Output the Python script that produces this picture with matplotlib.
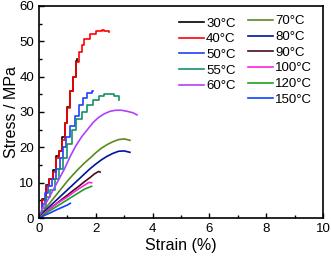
import matplotlib
matplotlib.use("Agg")
import matplotlib.pyplot as plt
from matplotlib.ticker import MultipleLocator

plt.rcParams['font.family'] = ['Liberation Sans', 'DejaVu Sans']

labels = ['30°C', '40°C', '50°C', '55°C', '60°C', '70°C', '80°C', '90°C', '100°C', '120°C', '150°C']
colors = ['#000000', '#ff0000', '#2040ff', '#14906a', '#b040ff', '#5a8a1e', '#00149a', '#4a0a20', '#ff20e0', '#20a020', '#1040ff']

x30 = [0, 0.1, 0.25, 0.35, 0.5, 0.6, 0.7, 0.8, 0.9, 1.0, 1.1, 1.2, 1.3, 1.35]
y30 = [0, 5.5, 9.5, 11, 13.5, 17.5, 19, 23, 27, 31.5, 36, 40, 44.5, 45]
x40 = [0, 0.1, 0.25, 0.35, 0.5, 0.6, 0.7, 0.8, 0.9, 1.0, 1.1, 1.2, 1.3, 1.4, 1.5, 1.6, 1.8, 2.0, 2.2, 2.3, 2.45]
y40 = [0, 5, 9, 11, 13, 17, 19, 22, 27, 31, 36, 40, 44, 47, 49, 50.5, 52, 53, 53.3, 53, 52.5]
x50 = [0, 0.1, 0.2, 0.3, 0.45, 0.6, 0.75, 0.85, 0.95, 1.1, 1.25, 1.4, 1.55, 1.7, 1.85, 1.9]
y50 = [0, 4, 7, 9, 11, 14, 17, 20, 23, 26, 29, 32, 34, 35.5, 36, 35.8]
x55 = [0, 0.1, 0.25, 0.4, 0.55, 0.7, 0.85, 1.0, 1.15, 1.3, 1.5, 1.7, 1.9, 2.1, 2.3, 2.5, 2.65, 2.8]
y55 = [0, 3, 6, 8, 11, 14, 17, 21, 25, 28, 30, 32, 33.5, 34.5, 35, 35, 34.5, 33.5]
x60 = [0, 0.1, 0.3, 0.5, 0.7, 0.9, 1.1, 1.3, 1.5, 1.7, 1.9, 2.1, 2.3, 2.5, 2.7, 2.9, 3.1, 3.3, 3.45]
y60 = [0, 2.5, 5, 8, 11, 14, 17.5, 20.5, 23, 25, 27, 28.5, 29.5, 30.2, 30.5, 30.5, 30.2, 29.8, 29.2]
x70 = [0, 0.2, 0.4, 0.6, 0.8, 1.0, 1.2, 1.4, 1.6, 1.8, 2.0, 2.2, 2.4, 2.6, 2.8, 3.0, 3.2]
y70 = [0, 2.5, 4.5, 6.5, 8.5, 10.5, 12.3, 14, 15.6, 17, 18.5, 19.8, 20.8, 21.6, 22.2, 22.4, 22]
x80 = [0, 0.2, 0.4, 0.6, 0.8, 1.0, 1.2, 1.4, 1.6, 1.8, 2.0, 2.2, 2.4, 2.6, 2.8, 3.0, 3.2]
y80 = [0, 2, 3.5, 5, 6.5, 8, 9.5, 11, 12.5, 14, 15.3, 16.5, 17.5, 18.3, 18.9, 19, 18.6]
x90 = [0, 0.2, 0.4, 0.6, 0.8, 1.0, 1.2, 1.4, 1.6, 1.8, 1.95, 2.1, 2.15]
y90 = [0, 1.5, 2.8, 4, 5.3, 6.5, 7.8, 9, 10.3, 11.5, 12.5, 13.2, 13]
x100 = [0, 0.2, 0.4, 0.6, 0.8, 1.0, 1.2, 1.4, 1.6, 1.75, 1.85]
y100 = [0, 1.5, 2.8, 4, 5, 6, 7.2, 8.3, 9.3, 10.1, 10]
x120 = [0, 0.2, 0.4, 0.6, 0.8, 1.0, 1.2, 1.4, 1.6, 1.85]
y120 = [0, 1.2, 2.2, 3.2, 4.2, 5.2, 6.2, 7.2, 8.2, 9]
x150 = [0, 0.2, 0.4, 0.6, 0.8, 1.0, 1.1]
y150 = [0, 0.8, 1.5, 2.3, 3, 3.7, 4.2]

xs = [x30, x40, x50, x55, x60, x70, x80, x90, x100, x120, x150]
ys = [y30, y40, y50, y55, y60, y70, y80, y90, y100, y120, y150]
stepped = [True, True, True, True, False, False, False, False, False, False, False]

fig = plt.figure(figsize=(3.31, 2.56), dpi=100)
ax = fig.add_axes([0.118, 0.148, 0.858, 0.829])

handles = []
for x, y, c, l, s in zip(xs, ys, colors, labels, stepped):
    h, = ax.plot(x, y, color=c, lw=1.2, label=l, drawstyle='steps-post' if s else 'default')
    handles.append(h)

ax.set_xlim(0, 10)
ax.set_ylim(0, 60)
ax.xaxis.set_major_locator(MultipleLocator(2))
ax.xaxis.set_minor_locator(MultipleLocator(1))
ax.yaxis.set_major_locator(MultipleLocator(10))
ax.yaxis.set_minor_locator(MultipleLocator(5))
ax.tick_params(which='both', direction='in', labelsize=9.5, width=1)
ax.tick_params(which='major', length=3.5)
ax.tick_params(which='minor', length=2)
for sp in ax.spines.values():
    sp.set_linewidth(1.2)
ax.set_xlabel('Strain (%)', fontsize=11.5, labelpad=2)
ax.set_ylabel('Stress / MPa', fontsize=11.5, labelpad=0)

kw = dict(frameon=False, fontsize=9.5, loc='upper left', handlelength=1.9,
          handletextpad=0.15, labelspacing=0.26, borderpad=0, borderaxespad=0)
leg1 = ax.legend(handles[:5], labels[:5], bbox_to_anchor=(0.493, 0.946), **kw)
ax.add_artist(leg1)
ax.legend(handles[5:], labels[5:], bbox_to_anchor=(0.736, 0.956), **kw)

fig.savefig('out.png', dpi=100)
